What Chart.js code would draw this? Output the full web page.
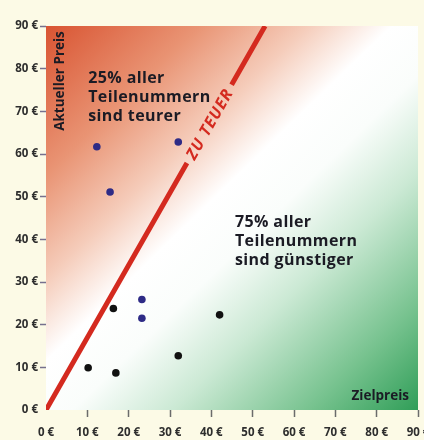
<!DOCTYPE html>
<html lang="de">
<head>
<meta charset="utf-8">
<title>Aktueller Preis und Zielpreis</title>
<script src="https://cdn.jsdelivr.net/npm/chart.js@4.4.1/dist/chart.umd.min.js"></script>
<style>
  html, body { margin: 0; padding: 0; background: #fcfae6; }
  #wrap { width: 424px; height: 440px; }
  canvas { display: block; }
</style>
</head>
<body>
<div id="wrap"><canvas id="c" width="424" height="440"></canvas></div>
<script>
// Teilenummern: Zielpreis (x) gegen aktuellen Preis (y), in Euro
const axisTicks = [0, 10, 20, 30, 40, 50, 60, 70, 80, 90];
const blueX  = [12.3, 32.0, 15.5, 23.2, 23.2];
const blueY  = [61.7, 62.8, 51.1, 25.9, 21.5];
const blackX = [16.3, 10.2, 16.9, 32.0, 42.0];
const blackY = [23.8, 9.9, 8.7, 12.7, 22.3];

// Grenzlinie "zu teuer" (Start- und Endpunkt) und Lücke für ihre Beschriftung
const limitX = [0, 53];
const limitY = [0, 90];
const limitGapX = [34.1, 44.9];
const limitLabel = 'ZU TEUER';

const noteAbove = ['25% aller', 'Teilenummern', 'sind teurer'];
const noteBelow = ['75% aller', 'Teilenummern', 'sind günstiger'];
const yTitle = 'Aktueller Preis';
const xTitle = 'Zielpreis';

const FONT = '"Open Sans", "DejaVu Sans", sans-serif';
const slope = (limitY[1] - limitY[0]) / (limitX[1] - limitX[0]);
const onLimit = v => ({ x: v, y: limitY[0] + slope * (v - limitX[0]) });

const limitData = [
  onLimit(limitX[0]),
  onLimit(limitGapX[0]),
  { x: (limitGapX[0] + limitGapX[1]) / 2, y: null },
  onLimit(limitGapX[1]),
  onLimit(limitX[1])
];
const toPoints = (xs, ys) => xs.map((v, i) => ({ x: v, y: ys[i] }));

// Diagonaler Farbverlauf rot -> weiß -> grün hinter dem Diagramm
const plotBackground = {
  id: 'plotBackground',
  beforeDraw(chart) {
    const { ctx, chartArea: a } = chart;
    const g = ctx.createLinearGradient(a.left, a.top, a.right, a.bottom);
    g.addColorStop(0.00, 'rgb(217,84,50)');
    g.addColorStop(0.20, 'rgb(233,148,116)');
    g.addColorStop(0.34, 'rgb(245,204,186)');
    g.addColorStop(0.45, 'rgb(255,255,255)');
    g.addColorStop(0.55, 'rgb(250,253,251)');
    g.addColorStop(0.68, 'rgb(203,233,212)');
    g.addColorStop(0.86, 'rgb(118,194,142)');
    g.addColorStop(1.00, 'rgb(48,158,88)');
    ctx.save();
    ctx.fillStyle = g;
    ctx.fillRect(a.left, a.top, a.width, a.height);
    ctx.restore();
  }
};

// Beschriftungen im Diagramm
const annotations = {
  id: 'annotations',
  afterDatasetsDraw(chart) {
    const { ctx, chartArea: a, scales: { x, y } } = chart;
    ctx.save();

    // "ZU TEUER" entlang der Grenzlinie
    const mid = onLimit((limitGapX[0] + limitGapX[1]) / 2);
    const p0 = [x.getPixelForValue(limitX[0]), y.getPixelForValue(limitY[0])];
    const p1 = [x.getPixelForValue(limitX[1]), y.getPixelForValue(limitY[1])];
    const ang = Math.atan2(p1[1] - p0[1], p1[0] - p0[0]);
    ctx.save();
    ctx.translate(x.getPixelForValue(mid.x), y.getPixelForValue(mid.y));
    ctx.rotate(ang);
    ctx.font = 'italic 700 16px ' + FONT;
    ctx.letterSpacing = '1px';
    ctx.fillStyle = '#d42a1f';
    ctx.textAlign = 'center';
    ctx.textBaseline = 'middle';
    ctx.fillText(limitLabel, 0, 1);
    ctx.restore();

    // Mehrzeilige Hinweise
    const block = (lines, vx, vy) => {
      ctx.font = '700 16px ' + FONT;
      ctx.letterSpacing = '0.4px';
      ctx.fillStyle = '#1b1b24';
      ctx.textAlign = 'left';
      ctx.textBaseline = 'alphabetic';
      const left = x.getPixelForValue(vx);
      const base = y.getPixelForValue(vy);
      lines.forEach((t, i) => ctx.fillText(t, left, base + i * 19));
    };
    block(noteAbove, 10.2, 76.6);
    block(noteBelow, 45.7, 42.9);

    // Achsentitel innerhalb der Fläche
    ctx.letterSpacing = '0px';
    ctx.fillStyle = '#1b1b24';
    ctx.save();
    ctx.translate(a.left + 14, a.top + 55);
    ctx.rotate(-Math.PI / 2);
    ctx.font = '700 13.5px ' + FONT;
    ctx.textAlign = 'center';
    ctx.textBaseline = 'middle';
    ctx.fillText(yTitle, 0, 0);
    ctx.restore();

    ctx.font = '700 13.5px ' + FONT;
    ctx.textAlign = 'right';
    ctx.textBaseline = 'alphabetic';
    ctx.fillText(xTitle, a.right - 9, a.bottom - 10);

    ctx.restore();
  }
};

const euro = v => v + ' €';
const tickFont = { family: FONT, size: 11.5, weight: '700' };

new Chart(document.getElementById('c'), {
  type: 'scatter',
  data: {
    datasets: [
      {
        type: 'line',
        data: limitData,
        borderColor: '#d42a1f',
        borderWidth: 5,
        borderCapStyle: 'butt',
        pointRadius: 0,
        spanGaps: false,
        order: 3
      },
      {
        data: toPoints(blueX, blueY),
        backgroundColor: '#2e2b86',
        borderWidth: 0,
        pointRadius: 3.8,
        order: 1
      },
      {
        data: toPoints(blackX, blackY),
        backgroundColor: '#111111',
        borderWidth: 0,
        pointRadius: 3.8,
        order: 1
      }
    ]
  },
  options: {
    responsive: false,
    animation: false,
    devicePixelRatio: 1,
    layout: { padding: { top: 26, right: 6, left: 0, bottom: 0 } },
    plugins: { legend: { display: false }, tooltip: { enabled: false } },
    scales: {
      x: {
        type: 'linear',
        min: axisTicks[0],
        max: axisTicks[axisTicks.length - 1],
        afterBuildTicks: s => { s.ticks = axisTicks.map(v => ({ value: v })); },
        afterFit: s => { s.height = 30; s.paddingLeft = 0; s.paddingRight = 0; },
        border: { display: false },
        grid: {
          drawOnChartArea: false,
          tickLength: 7,
          tickWidth: 1.5,
          color: c => (c.tick && c.tick.value === 0) ? 'rgba(0,0,0,0)' : '#6b6b6b'
        },
        ticks: {
          callback: euro,
          font: tickFont,
          color: '#2e2e2e',
          padding: 9,
          maxRotation: 0,
          autoSkip: false
        }
      },
      y: {
        type: 'linear',
        min: axisTicks[0],
        max: axisTicks[axisTicks.length - 1],
        afterBuildTicks: s => { s.ticks = axisTicks.map(v => ({ value: v })); },
        afterFit: s => { s.width = 46; s.paddingTop = 0; s.paddingBottom = 0; },
        border: { display: false },
        grid: {
          drawOnChartArea: false,
          tickLength: 6,
          tickWidth: 1.5,
          color: c => (c.tick && c.tick.value === 0) ? 'rgba(0,0,0,0)' : '#76708e'
        },
        ticks: {
          callback: euro,
          font: tickFont,
          color: '#2e2e2e',
          padding: 2,
          autoSkip: false
        }
      }
    }
  },
  plugins: [plotBackground, annotations]
});
</script>
</body>
</html>
